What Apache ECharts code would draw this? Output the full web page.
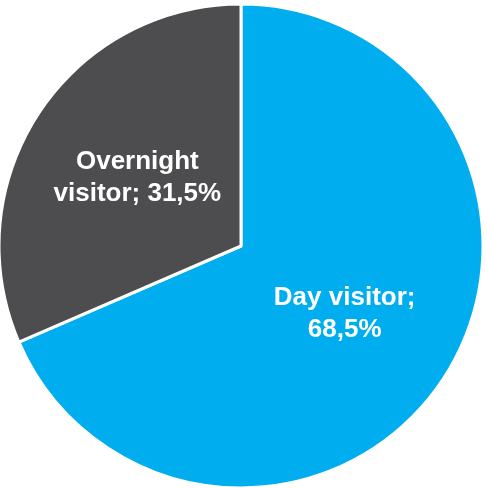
<!DOCTYPE html>
<html>
<head>
<meta charset="utf-8">
<script src="https://cdn.jsdelivr.net/npm/echarts@6/dist/echarts.min.js"></script>
<style>
  html, body { margin: 0; padding: 0; background: #ffffff; }
  #chart { width: 487px; height: 488px; }
</style>
</head>
<body>
<div id="chart"></div>
<script>
// Visitor split by type of visit (share of total, %)
const categories = ['Day visitor', 'Overnight visitor'];
const shares = [68.5, 31.5];
const labelTexts = ['Day visitor;\n68,5%', 'Overnight\nvisitor; 31,5%'];
const colors = ['#00AEEF', '#4D4D4F'];

const chart = echarts.init(document.getElementById('chart'), null, { renderer: 'canvas' });

chart.setOption({
  animation: false,
  backgroundColor: '#ffffff',
  series: [{
    type: 'pie',
    center: [241, 246],
    radius: [0, 242],
    startAngle: 90,
    clockwise: true,
    avoidLabelOverlap: false,
    itemStyle: { borderColor: '#ffffff', borderWidth: 3 },
    label: {
      show: true,
      position: 'inside',
      color: '#ffffff',
      fontFamily: 'Liberation Sans, Arial, sans-serif',
      fontWeight: 'bold',
      fontSize: 26,
      lineHeight: 32,
      align: 'center',
      formatter: (p) => labelTexts[p.dataIndex]
    },
    labelLine: { show: false },
    emphasis: { disabled: true },
    data: categories.map((name, i) => ({
      name,
      value: shares[i],
      itemStyle: { color: colors[i] }
    }))
  }]
});
</script>
</body>
</html>
